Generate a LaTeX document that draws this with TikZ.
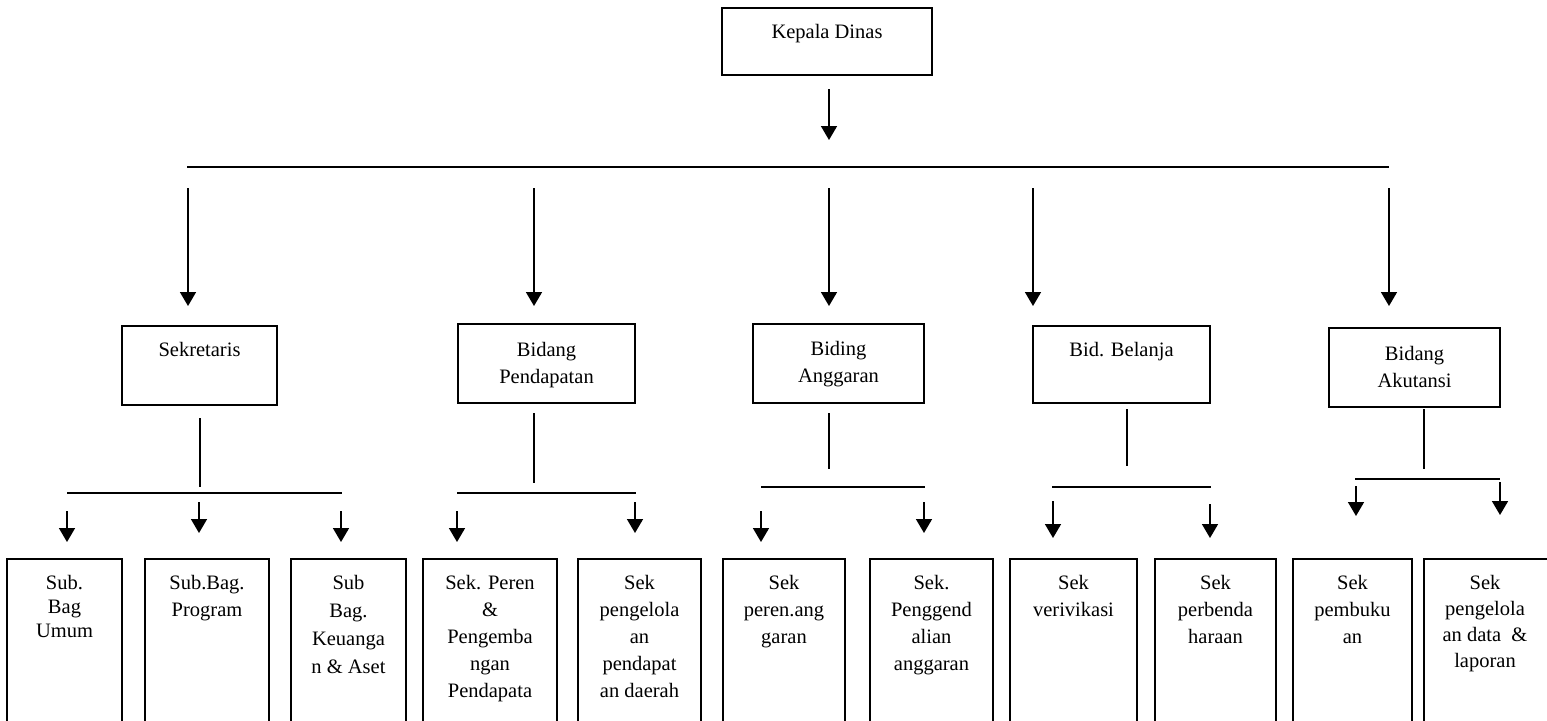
\documentclass[tikz,border=0pt]{standalone}
\usepackage{fontspec}
\setmainfont{Liberation Serif}
\usetikzlibrary{arrows.meta}
\newcommand\myarrow[4]{\coordinate (#1s) at (#2,#3); \coordinate (#1e) at (#2,#4); \draw[arr] (#1s) -- (#1e);}
\newcommand\myline[5]{\coordinate (#1s) at (#2,#3); \coordinate (#1e) at (#4,#5); \draw[ln] (#1s) -- (#1e);}
\begin{document}
\begin{tikzpicture}[x=0.5pt,y=-0.5pt,
  box/.style={draw, line width=1pt, inner sep=0pt},
  lbl/.style={font=\fontsize{10.25}{13.5}\selectfont, align=center, inner sep=0pt, anchor=north},
  ln/.style={line width=0.8pt},
  arr/.style={line width=0.8pt, -{Triangle[width=8pt,length=7pt]}}]
\clip (0,0) rectangle (1547,720);
\fill[white] (0,0) rectangle (1547,720);

% top
\node[box, minimum width=105pt, minimum height=33.5pt] (kd) at (827,41.5) {};
\node[lbl] (kdt) at (827,24) {Kepala Dinas};
\coordinate (kde) at (829,140);
\draw[arr, shorten <=6.5pt] (kd.south -| kde) -- (kde);
\myline{main}{187}{167}{1389}{167}
\myarrow{a1}{188}{188}{306}
\myarrow{a2}{534}{188}{306}
\myarrow{a3}{829}{188}{306}
\myarrow{a4}{1033}{188}{306}
\myarrow{a5}{1389}{188}{306}

% middle boxes
\node[box, minimum width=77.5pt, minimum height=39.5pt] (sek) at (199.5,365.5) {};
\node[lbl] (sekt) at (199.5,342) {Sekretaris};
\node[box, minimum width=88.5pt, minimum height=39.5pt] (pend) at (546.5,363.5) {};
\node[lbl] (pendt) at (546.5,342) {Bidang\\Pendapatan};
\node[box, minimum width=85.5pt, minimum height=39.5pt] (angg) at (838.5,363.5) {};
\node[lbl] (anggt) at (838.5,341) {Biding\\Anggaran};
\node[box, minimum width=88.5pt, minimum height=38.5pt] (bel) at (1121.5,364.5) {};
\node[lbl] (belt) at (1121.5,342) {Bid. Belanja};
\node[box, minimum width=85.5pt, minimum height=39.5pt] (aku) at (1414.5,367.5) {};
\node[lbl] (akut) at (1414.5,346) {Bidang\\Akutansi};

% sekretaris subtree
\myline{sv}{200}{418}{200}{487}
\myline{sh}{67}{493}{342}{493}
\myarrow{s1}{67}{511}{542}
\myarrow{s2}{199}{502}{533}
\myarrow{s3}{341}{511}{542}
% pendapatan subtree
\myline{pv}{534}{413}{534}{483}
\myline{ph}{457}{493}{636}{493}
\myarrow{p1}{457}{511}{542}
\myarrow{p2}{635}{502}{533}
% anggaran subtree
\myline{gv}{829}{413}{829}{469}
\myline{gh}{761}{487}{925}{487}
\myarrow{g1}{761}{511}{542}
\myarrow{g2}{924}{502}{533}
% belanja subtree
\myline{bv}{1127}{409}{1127}{466}
\myline{bh}{1052}{487}{1211}{487}
\myarrow{b1}{1053}{501}{538}
\myarrow{b2}{1210}{504}{538}
% akutansi subtree
\myline{kv}{1424}{409}{1424}{469}
\myline{kh}{1355}{479}{1500}{479}
\myarrow{k1}{1356}{486}{516}
\myarrow{k2}{1500}{482}{515}

% bottom boxes
\node[box, minimum width=57.5pt, minimum height=90.5pt] (u1) at (64.5,649.5) {};
\node[lbl, font=\fontsize{10.25}{12}\selectfont] (u1t) at (64.5,575) {Sub.\\Bag\\Umum};
\node[box, minimum width=62pt, minimum height=90.5pt] (u2) at (207,649.5) {};
\node[lbl] (u2t) at (207,575) {Sub.Bag.\\Program};
\node[box, minimum width=57.5pt, minimum height=90.5pt] (u3) at (348.5,649.5) {};
\node[lbl, font=\fontsize{10.25}{14}\selectfont] (u3t) at (348.5,575) {Sub\\Bag.\\Keuanga\\n \& Aset};
\node[box, minimum width=67pt, minimum height=90.5pt] (u4) at (490,649.5) {};
\node[lbl] (u4t) at (490,575) {Sek. Peren\\\&\\Pengemba\\ngan\\Pendapata};
\node[box, minimum width=61.5pt, minimum height=90.5pt] (u5) at (639.5,649.5) {};
\node[lbl] (u5t) at (639.5,575) {Sek\\pengelola\\an\\pendapat\\an daerah};
\node[box, minimum width=61pt, minimum height=90.5pt] (u6) at (784,649.5) {};
\node[lbl] (u6t) at (784,575) {Sek\\peren.ang\\garan};
\node[box, minimum width=61.5pt, minimum height=90.5pt] (u7) at (931.5,649.5) {};
\node[lbl] (u7t) at (931.5,575) {Sek.\\Penggend\\alian\\anggaran};
\node[box, minimum width=63.5pt, minimum height=90.5pt] (u8) at (1073.5,649.5) {};
\node[lbl] (u8t) at (1073.5,575) {Sek\\verivikasi};
\node[box, minimum width=60.5pt, minimum height=90.5pt] (u9) at (1215.5,649.5) {};
\node[lbl] (u9t) at (1215.5,575) {Sek\\perbenda\\haraan};
\node[box, minimum width=59.5pt, minimum height=90.5pt] (u10) at (1352.5,649.5) {};
\node[lbl] (u10t) at (1352.5,575) {Sek\\pembuku\\an};
\node[box, minimum width=73pt, minimum height=90.5pt] (u11) at (1497,649.5) {};
\node[lbl, font=\fontsize{10.25}{13}\selectfont] (u11t) at (1485,575) {Sek\\pengelola\\an data~~\&\\laporan};
\end{tikzpicture}
\end{document}
